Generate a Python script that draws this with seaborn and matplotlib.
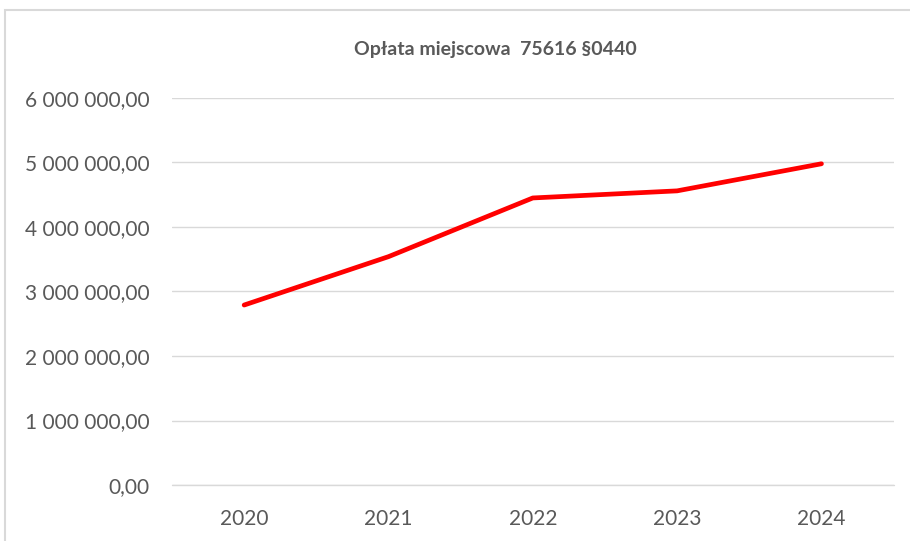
import numpy as np
import pandas as pd
import matplotlib
matplotlib.use('Agg')
import matplotlib.pyplot as plt
import matplotlib.ticker as mticker
from matplotlib.patches import Rectangle
import seaborn as sns

####### DATA #######
years = ['2020', '2021', '2022', '2023', '2024']
values = [2790000, 3540000, 4450000, 4560000, 4980000]
y_ticks = [0, 1000000, 2000000, 3000000, 4000000, 5000000, 6000000]
title = 'Opłata miejscowa  75616 §0440'

sns.set_theme(style='white')
plt.rcParams['font.family'] = ['Lato', 'DejaVu Sans']

df = pd.DataFrame({'rok': years, 'kwota': values})
df['pos'] = np.arange(len(years))

def pl_format(v, pos):
    # 6 000 000,00 style
    s = f'{v:,.2f}'
    return s.replace(',', ' ').replace('.', ',')

fig = plt.figure(figsize=(9.1, 5.41), dpi=100)
ax = fig.add_axes([0.189, 0.1035, 0.793, 0.7154])

sns.lineplot(data=df, x='pos', y='kwota', ax=ax, color='#ff0000',
             linewidth=3.4, solid_capstyle='round', solid_joinstyle='round')

ax.set_xlim(-0.5, len(years) - 0.5)
ax.set_ylim(0, 6000000)
ax.set_xticks(df['pos'])
ax.set_xticklabels(years)
ax.set_yticks(y_ticks)
ax.yaxis.set_major_formatter(mticker.FuncFormatter(pl_format))
ax.grid(axis='y', color='#d9d9d9', linewidth=1)
ax.axhline(0, color='#d9d9d9', linewidth=1, clip_on=False, zorder=0.5)
ax.set_axisbelow(True)
for s in ax.spines.values():
    s.set_visible(False)
ax.tick_params(axis='both', length=0, labelsize=15, labelcolor='#595959')
ax.tick_params(axis='y', pad=16)
ax.tick_params(axis='x', pad=17)
ax.set_xlabel('')
ax.set_ylabel('')

fig.text(0.544, 0.909, title, ha='center', va='center', fontsize=14,
         fontweight='bold', color='#595959')

# chart border like the spreadsheet frame
fig.patches.append(Rectangle((5 / 910, -0.2), 1.2, 531 / 541 + 0.2,
                             transform=fig.transFigure, fill=False,
                             edgecolor='#d9d9d9', linewidth=1.5))

fig.savefig('out.png', dpi=100)
